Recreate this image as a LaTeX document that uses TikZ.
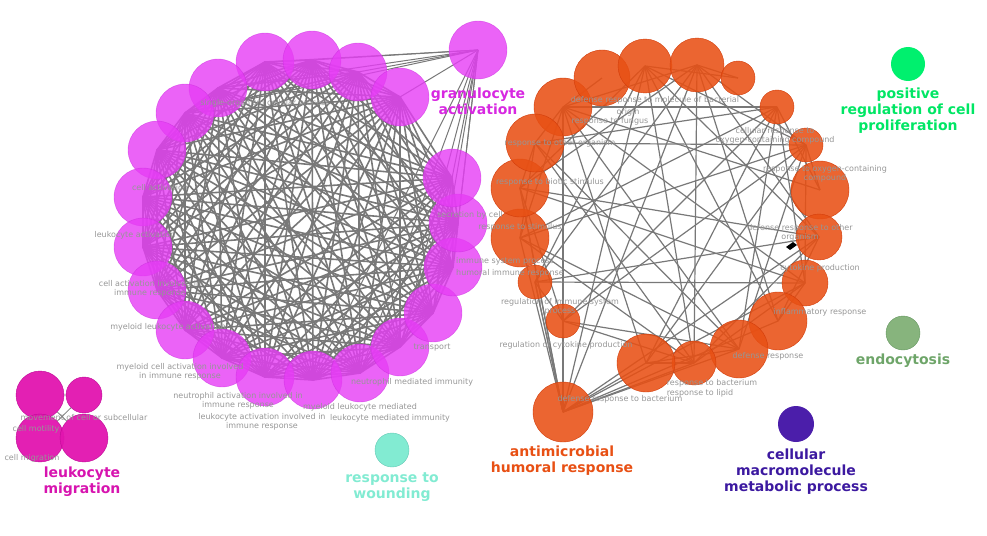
\documentclass[tikz,border=0pt]{standalone}
\usepackage{fontspec}
\setmainfont{DejaVu Sans}
\begin{document}
\begin{tikzpicture}[x=1pt,y=-1pt,
  mag/.style={circle,fill={rgb,255:red,230;green,60;blue,245},fill opacity=0.8,draw={rgb,255:red,200;green,40;blue,220},draw opacity=0.6,inner sep=0},
  org/.style={circle,fill={rgb,255:red,232;green,80;blue,20},fill opacity=0.88,draw={rgb,255:red,210;green,60;blue,10},inner sep=0},
  pink/.style={circle,fill={rgb,255:red,225;green,20;blue,175},fill opacity=0.95,draw={rgb,255:red,190;green,10;blue,150},inner sep=0},
  edge/.style={draw={rgb,255:red,120;green,120;blue,120},line width=1.6pt},
  lab/.style={font=\fontsize{8}{9}\selectfont,text={rgb,255:red,150;green,150;blue,150},align=center,inner sep=0},
  big/.style={font=\bfseries\fontsize{14}{16}\selectfont,align=center,inner sep=0}]
\useasboundingbox (0,0) rectangle (987,535);
% left ring
\foreach \n/\x/\y in {1/265/62,2/312/60,3/358/72,4/400/97,5/218/88,6/185/113,7/157/150,8/143/197,9/143/247,10/157/290,11/185/330,12/222/358,13/265/377,14/313/380,15/360/373,16/400/347,17/433/313,18/453/267,19/458/223,20/452/178}
  \coordinate (L\n) at (\x,\y);
\coordinate (G) at (478,50);
\begin{scope}[edge]
\foreach \i in {1,...,20}{\foreach \j in {\i,...,20}{\ifnum\i<\j \draw (L\i)--(L\j);\fi}}
\foreach \i in {1,2,3,4,5,6,16,17,18,19,20,15,14} \draw[line width=1pt] (G)--(L\i);
\draw (288,232)--(312,210);
\end{scope}
% right ring
\foreach \n/\x/\y/\r in {1/563/107/29,2/602/78/28,3/645/66/27,4/697/65/27,5/738/78/17,6/777/107/17,7/806/145/17,8/820/190/29,9/819/237/23,10/805/283/23,11/778/321/29,12/739/349/29,13/694/363/22,14/646/363/29,15/563/412/30,16/563/321/17,17/535/282/17,18/520/238/29,19/520/188/29,20/535/143/29}
  \coordinate (R\n) at (\x,\y);
\begin{scope}[edge,line width=1.2pt]
\foreach \i in {1,...,20}{\foreach \j in {\i,...,20}{\ifnum\i<\j
  \pgfmathtruncatemacro\t{mod(\i*7+\j*\j*3,6)}
  \ifnum\t<2 \draw (R\i)--(R\j);\fi\fi}}
\foreach \i in {14,13,12,11,16,17,18,19} \draw (R15)--(R\i);
\end{scope}
\fill[black] (786,247) -- (793,242) -- (797,245) -- (790,250) -- cycle;
% left nodes
\foreach \n/\x/\y in {1/265/62,2/312/60,3/358/72,4/400/97,5/218/88,6/185/113,7/157/150,8/143/197,9/143/247,10/157/290,11/185/330,12/222/358,13/265/377,14/313/380,15/360/373,16/400/347,17/433/313,18/453/267,19/458/223,20/452/178}
  \node[mag,minimum size=58pt] (ln\n) at (\x,\y) {};
\node[mag,minimum size=58pt] (gn) at (G) {};
% right nodes
\foreach \n/\x/\y/\r in {1/563/107/29,2/602/78/28,3/645/66/27,4/697/65/27,5/738/78/17,6/777/107/17,7/806/145/17,8/820/190/29,9/819/237/23,10/805/283/23,11/778/321/29,12/739/349/29,13/694/363/22,14/646/363/29,15/563/412/30,16/563/321/17,17/535/282/17,18/520/238/29,19/520/188/29,20/535/143/29}
  \node[org,minimum size=2*\r pt] (rn\n) at (\x,\y) {};
% leukocyte migration cluster
\node[pink,minimum size=48pt] (m1) at (40,395) {};
\node[pink,minimum size=36pt] (m2) at (84,395) {};
\node[pink,minimum size=48pt] (m3) at (40,438) {};
\node[pink,minimum size=48pt] (m4) at (84,438) {};
\draw[edge,line width=0.8pt] (m1)--(m4) (m2)--(m3) (m1)--(m2);
% isolated
\node[circle,fill={rgb,255:red,0;green,240;blue,110},minimum size=34pt,inner sep=0] (p1) at (908,64) {};
\node[circle,fill={rgb,255:red,135;green,180;blue,125},draw={rgb,255:red,100;green,150;blue,95},minimum size=34pt,inner sep=0] (p2) at (903,333) {};
\node[circle,fill={rgb,255:red,75;green,30;blue,170},minimum size=36pt,inner sep=0] (p3) at (796,424) {};
\node[circle,fill={rgb,255:red,130;green,235;blue,210},draw={rgb,255:red,100;green,200;blue,180},minimum size=34pt,inner sep=0] (p4) at (392,450) {};
% big labels
\node[big,text={rgb,255:red,215;green,40;blue,225}] (tg) at (478,101) {granulocyte\\activation};
\node[big,text={rgb,255:red,0;green,230;blue,100}] (tp) at (908,111) {positive\\regulation of cell\\proliferation};
\node[big,text={rgb,255:red,110;green,165;blue,105}] (te) at (903,361) {endocytosis};
\node[big,text={rgb,255:red,60;green,25;blue,160}] (tc) at (796,472) {cellular\\macromolecule\\metabolic process};
\node[big,text={rgb,255:red,232;green,80;blue,20}] (ta) at (562,461) {antimicrobial\\humoral response};
\node[big,text={rgb,255:red,130;green,235;blue,210}] (tw) at (392,487) {response to\\wounding};
\node[big,text={rgb,255:red,215;green,20;blue,175}] (tl) at (82,482) {leukocyte\\migration};
% small labels
\node[lab] at (265,103) {single-organism cellular process};
\node[lab] at (160,188) {cell activation};
\node[lab] at (135,235) {leukocyte activation};
\node[lab] at (150,289) {cell activation involved in\\immune response};
\node[lab] at (168,327) {myeloid leukocyte activation};
\node[lab] at (180,372) {myeloid cell activation involved\\in immune response};
\node[lab] at (238,401) {neutrophil activation involved in\\immune response};
\node[lab] at (262,422) {leukocyte activation involved in\\immune response};
\node[lab] at (360,407) {myeloid leukocyte mediated};
\node[lab] at (390,418) {leukocyte mediated immunity};
\node[lab] at (412,382) {neutrophil mediated immunity};
\node[lab] at (432,348) {transport};
\node[lab] at (470,215) {secretion by cell};
\node[lab] at (84,418) {movement of cell or subcellular};
\node[lab] at (36,429) {cell motility};
\node[lab] at (32,458) {cell migration};
\node[lab] at (655,100) {defense response to molecule of bacterial};
\node[lab] at (628,112) {origin};
\node[lab] at (610,121) {response to fungus};
\node[lab] at (560,143) {response to other organism};
\node[lab] at (550,182) {response to biotic stimulus};
\node[lab] at (520,227) {response to stimulus};
\node[lab] at (505,261) {immune system process};
\node[lab] at (510,273) {humoral immune response};
\node[lab] at (560,307) {regulation of immune system\\process};
\node[lab] at (566,345) {regulation of cytokine production};
\node[lab] at (775,136) {cellular response to\\oxygen-containing compound};
\node[lab] at (825,174) {response to oxygen-containing\\compound};
\node[lab] at (800,233) {defense response to other\\organism};
\node[lab] at (820,268) {cytokine production};
\node[lab] at (820,312) {inflammatory response};
\node[lab] at (768,356) {defense response};
\node[lab] at (712,383) {response to bacterium};
\node[lab] at (700,393) {response to lipid};
\node[lab] at (620,399) {defense response to bacterium};
\end{tikzpicture}
\end{document}
